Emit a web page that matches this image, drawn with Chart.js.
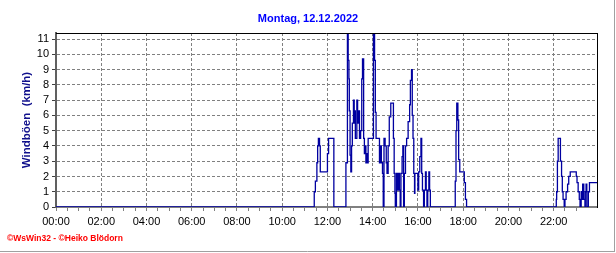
<!DOCTYPE html>
<html>
<head>
<meta charset="utf-8">
<script src="https://cdn.jsdelivr.net/npm/chart.js@4"></script>
<style>
  body { margin: 0; background: #fff; }
  canvas { display: block; }
</style>
</head>
<body>
<canvas id="chart" width="616" height="253"></canvas>
<script>
// Windböen vom 12.12.2022 : Zeitpunkt (Minuten ab 00:00) und Wert in km/h, jeweils bei Änderung
const minutes = [
  0,
  685, 688, 692, 694, 696, 699, 701, 720, 723, 737,
  769, 773, 775, 777, 778, 780, 782, 784, 786, 789, 791, 792, 794, 798, 800, 803, 805, 808, 811, 813,
  816, 818, 820, 822, 824, 826, 828, 842, 845, 847, 849, 858, 860, 863, 866, 868, 870, 873, 876, 878,
  881, 884, 888, 895, 897, 899, 900, 903, 906, 908, 911, 913, 915, 918, 920, 922, 924, 927, 930, 934,
  938, 940, 943, 945, 947, 949, 951, 952, 960, 962, 965, 968, 970, 972, 975, 977, 980, 982, 984, 986,
  989, 991, 993,
  1059, 1061, 1063, 1066, 1068, 1071, 1083, 1086, 1089,
  1327, 1328, 1330, 1332, 1338, 1341, 1343, 1345, 1348, 1350, 1353, 1357, 1360, 1364, 1380, 1382,
  1385, 1388, 1390, 1393, 1396, 1397, 1400, 1403, 1404, 1406, 1408, 1412, 1415, 1435
];
const gusts = [
  0,
  1.0, 1.7, 2.9, 4.0, 4.5, 4.0, 2.3, 3.5, 4.5, 0,
  2.9, 11.5, 9.6, 8.4, 6.3, 3.4, 2.3, 4.0, 5.5, 7.0, 5.5, 6.3, 4.5, 7.0, 5.5, 6.3, 4.5, 5.0, 8.4, 9.7,
  4.5, 3.5, 4.0, 2.9, 3.5, 2.9, 4.5, 11.5, 9.6, 6.2, 4.5, 2.9, 4.0, 2.9, 2.2, 0, 4.5, 4.0, 2.9, 2.2,
  4.0, 5.9, 6.8, 4.5, 2.2, 0.9, 0, 2.2, 1.1, 2.2, 1.1, 0, 2.2, 3.3, 4.0, 0, 2.2, 4.0, 4.5, 5.6,
  6.7, 8.3, 9.0, 6.0, 4.5, 2.2, 0.9, 2.2, 1.1, 2.3, 3.3, 4.5, 2.2, 1.1, 0, 1.1, 2.3, 1.1, 0, 1.1,
  2.3, 1.1, 0,
  1.7, 5.0, 6.8, 5.7, 3.1, 2.3, 1.6, 0.5, 0,
  0.5, 1.0, 3.0, 4.5, 3.0, 2.0, 1.0, 0.5, 0, 0.5, 1.0, 1.5, 2.0, 2.3, 2.0, 1.6,
  1.0, 0.5, 0, 1.0, 0.5, 1.5, 0.5, 0, 1.0, 1.5, 0, 1.0, 1.6, 1.6
];
const hourLabels = ["00:00", "02:00", "04:00", "06:00", "08:00", "10:00",
                    "12:00", "14:00", "16:00", "18:00", "20:00", "22:00"];
const yTickValues = [0, 1, 2, 3, 4, 5, 6, 7, 8, 9, 10, 11];

Chart.defaults.font.family = 'Arial, "Liberation Sans", sans-serif';

// oberer Rahmen + grauer Bildrand rechts/unten
const framePlugin = {
  id: "frame",
  afterDraw(chart) {
    const { ctx, chartArea: a } = chart;
    ctx.save();
    ctx.lineWidth = 1;
    ctx.strokeStyle = "#000";
    ctx.beginPath();
    ctx.moveTo(a.left, a.top + 0.5);
    ctx.lineTo(a.right, a.top + 0.5);
    ctx.stroke();
    ctx.strokeStyle = "#a0a0a0";
    ctx.beginPath();
    ctx.moveTo(614.5, 0);
    ctx.lineTo(614.5, 252);
    ctx.moveTo(0, 251.5);
    ctx.lineTo(615, 251.5);
    ctx.stroke();
    ctx.restore();
  }
};

const ctx = document.getElementById("chart").getContext("2d");
new Chart(ctx, {
  type: "line",
  data: {
    datasets: [{
      label: "Windböen",
      data: minutes.map((m, i) => ({ x: m, y: gusts[i] })),
      borderColor: "#0000a0",
      borderWidth: 1.3,
      pointRadius: 0,
      stepped: true,
      fill: false
    }]
  },
  options: {
    responsive: false,
    animation: false,
    devicePixelRatio: 1,
    layout: { padding: { left: 7, right: 7, top: 0, bottom: 0 } },
    plugins: {
      legend: { display: false },
      tooltip: { enabled: false },
      title: {
        display: true,
        text: "Montag, 12.12.2022",
        color: "#0000ff",
        font: { size: 11, weight: "bold" },
        padding: { top: 12.4, bottom: 7.4 }
      },
      subtitle: {
        display: true,
        position: "bottom",
        align: "start",
        text: "©WsWin32 - ©Heiko Blödorn",
        color: "#ff0000",
        font: { size: 8.5, weight: "bold" },
        padding: { top: 6.9, bottom: 8.9 }
      }
    },
    scales: {
      x: {
        type: "linear",
        min: 0,
        max: 1435,
        afterBuildTicks: (axis) => { axis.ticks = axis.ticks.filter(t => t.value % 30 === 0); },
        afterFit: (s) => { s.height = 20; },
        ticks: {
          stepSize: 30,
          autoSkip: false,
          maxRotation: 0,
          padding: 4,
          color: "#000",
          font: { size: 11 },
          callback: (v) => (v % 120 === 0 ? hourLabels[v / 120] : "")
        },
        grid: {
          color: (c) => (c.tick && c.tick.value > 0 && c.tick.value % 120 === 0 ? "#808080" : "rgba(0,0,0,0)"),
          tickColor: "#808080",
          tickLength: 4,
          lineWidth: 1
        },
        border: { color: "#808080", width: 2, dash: [3, 2] }
      },
      y: {
        min: 0,
        max: 11.4,
        afterBuildTicks: (axis) => { axis.ticks = yTickValues.map(v => ({ value: v })); },
        afterFit: (s) => { s.width = 49; },
        ticks: { padding: 3, color: "#000", font: { size: 11 }, autoSkip: false },
        grid: {
          color: (c) => (c.tick && c.tick.value > 0 ? "#808080" : "rgba(0,0,0,0)"),
          tickColor: "#404040",
          tickLength: 4,
          lineWidth: 1
        },
        border: { color: "#606060", width: 2, dash: [3, 2] },
        title: {
          display: true,
          text: "Windböen  (km/h)",
          color: "#10108c",
          font: { size: 11.5, weight: "bold" },
          padding: { top: 12.5, bottom: 0 }
        }
      },
      y2: {
        position: "right",
        display: true,
        afterFit: (s) => { s.width = 12; },
        ticks: { display: false },
        grid: { display: false, drawTicks: false },
        border: { color: "#000", width: 1 }
      }
    }
  },
  plugins: [framePlugin]
});
</script>
</body>
</html>
